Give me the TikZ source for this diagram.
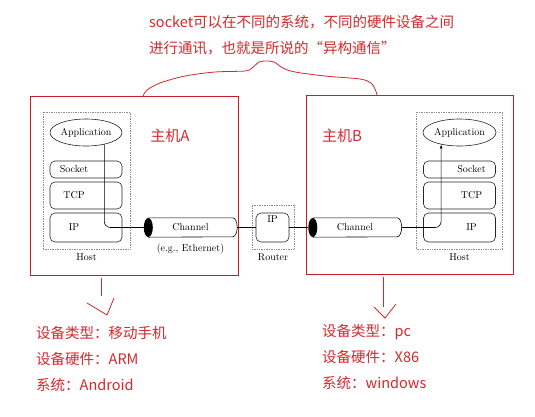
\documentclass[tikz,border=0pt]{standalone}
\usepackage{fontspec}
\usepackage{xcolor}
\usepackage{tikz}
\usetikzlibrary{positioning,shapes.geometric,arrows.meta}
\newfontfamily\cjk{Noto Sans CJK SC}
\definecolor{notered}{RGB}{214,40,44}
\definecolor{boxred}{RGB}{196,30,46}

\tikzset{
  layer/.style={draw=black!85, rounded corners=5pt, line width=0.6pt, minimum width=72pt, inner sep=0pt},
  hostbox/.style={draw=black!45, densely dotted, line width=0.7pt, inner sep=0pt},
  redbox/.style={draw=boxred, line width=0.8pt, minimum width=#1, minimum height=179pt, inner sep=0pt},
  note/.style={text=notered, font=\cjk\fontsize{14.5}{26}\selectfont, anchor=base west, inner sep=0pt},
  hostname/.style={text=notered, font=\cjk\fontsize{15}{18}\selectfont},
  channel/.style={minimum width=84pt, minimum height=19pt, inner sep=0pt}
}

\begin{document}
\begin{tikzpicture}[x=1pt, y=-1pt, font=\fontsize{10}{12}\selectfont]
    \useasboundingbox (0,0) rectangle (535,416);
    \fill[white] (0,0) rectangle (535,416);

    \node[redbox=208pt] (boxA) at (134,185.5) {};
    \node[redbox=207pt] (boxB) at (409.5,184.5) {};
    \node[hostname] (nameA) at (170,136) {主机A};
    \node[hostname] (nameB) at (342,136) {主机B};

    % host A
    \node[hostbox, minimum width=87pt, minimum height=137pt] (hostA) at (86.5,180.5) {};
    \node[below=1pt of hostA] (hostAlbl) {Host};
    \node[draw=black!85, line width=0.6pt, ellipse, minimum width=72pt, minimum height=27pt, inner sep=0pt] (appA) at (86,132.5) {Application};
    \node[layer, minimum height=17pt, label={[xshift=-12pt]center:Socket}] (sockA) at (86,169.5) {};
    \node[layer, minimum height=27pt, label={[xshift=-12pt]center:TCP}] (tcpA) at (86,195.5) {};
    \node[layer, minimum height=29pt, label={[xshift=-12pt]center:IP}] (ipA) at (86,227.5) {};

    % router
    \node[hostbox, minimum width=42pt, minimum height=44pt] (rtr) at (273,227) {};
    \node[below=1pt of rtr] (rtrlbl) {Router};
    \node[layer, minimum width=33pt, minimum height=29pt, label={[yshift=8pt]center:IP}] (ipR) at (272.5,227.5) {};

    % host B
    \node[hostbox, minimum width=86pt, minimum height=137pt] (hostB) at (459.5,180.5) {};
    \node[below=1pt of hostB] (hostBlbl) {Host};
    \node[draw=black!85, line width=0.6pt, ellipse, minimum width=73pt, minimum height=27pt, inner sep=0pt] (appB) at (459.5,132.5) {Application};
    \node[layer, minimum height=17pt, label={[xshift=12pt]center:Socket}] (sockB) at (459.5,169.5) {};
    \node[layer, minimum height=27pt, label={[xshift=12pt]center:TCP}] (tcpB) at (459.5,195.5) {};
    \node[layer, minimum height=29pt, label={[xshift=12pt]center:IP}] (ipB) at (459.5,227.5) {};

    % channels
    \node[channel] (chA) at (190.5,227.5) {Channel};
    \node[below=3pt of chA] (chAlbl) {(e.g., Ethernet)};
    \node[channel] (chB) at (355,227.5) {Channel};

    \draw[line width=0.6pt, rounded corners=6pt] (appA.-33) |- (chA.west);
    \draw[line width=0.6pt] ([xshift=4.5pt]chA.east) -- (ipR.west);
    \draw[line width=0.6pt] (ipR.east) -- ([xshift=-4.5pt]chB.west);
    \draw[line width=0.6pt, rounded corners=6pt, -{Latex[length=4pt,width=3pt]}] ([xshift=4.5pt]chB.east) -| (appB.-147);

    \foreach \c in {chA,chB}{
      \draw[line width=0.6pt] (\c.north west) -- (\c.north east)
        arc[start angle=90, end angle=-90, x radius=4.5pt, y radius=9.5pt] -- (\c.south west);
      \fill (\c.west) ellipse[x radius=4.5pt, y radius=9.5pt];
    }

    % notes
    \foreach \t [count=\i] in {socket可以在不同的系统，不同的硬件设备之间, 进行通讯，也就是所说的“异构通信”}
      \node[note] (top\i) at (149,1.5+26*\i) {\t};
    \draw[notered, line width=0.8pt] plot[smooth] coordinates {(143,96) (147,90) (160,83) (185,76) (215,72) (245,71)
      (252,68) (259,62) (266,61) (274,62) (283,68) (295,72) (325,76) (360,79) (371,83) (375,89) (377,95)};

    \draw[notered, line width=0.8pt] (101,278) -- (101,296);
    \draw[notered, line width=0.8pt] (87,303) -- (107,315) -- (114,298);
    \draw[notered, line width=0.8pt] (383,277) -- (383,307);
    \draw[notered, line width=0.8pt] (374,307) -- (385,318) -- (396,304);

    \foreach \t [count=\i] in {设备类型：移动手机, 设备硬件：ARM, 系统：Android}
      \node[note] (devA\i) at (36,312.5+26*\i) {\t};
    \foreach \t [count=\i] in {设备类型：pc, 设备硬件：X86, 系统：windows}
      \node[note] (devB\i) at (322,310.5+26*\i) {\t};
  \end{tikzpicture}
\end{document}
